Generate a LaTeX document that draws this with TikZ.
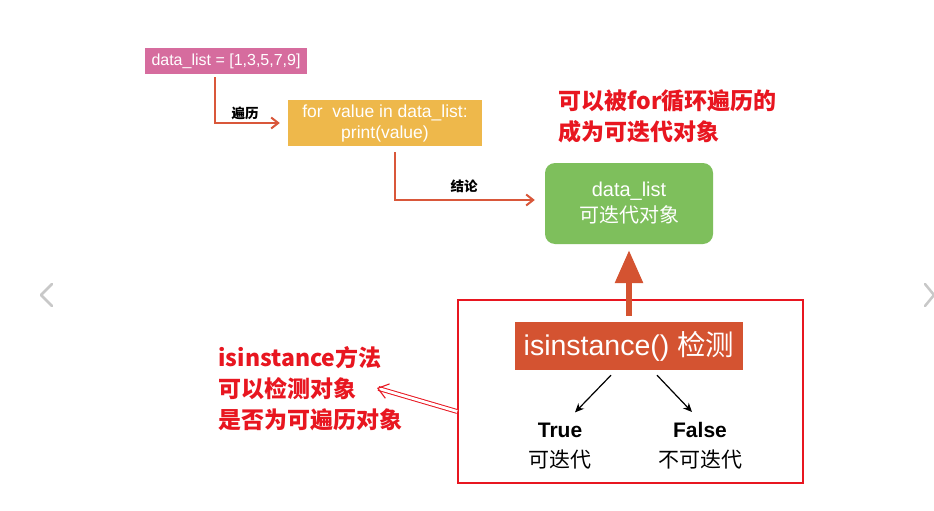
\documentclass[tikz,border=0pt]{standalone}
\usepackage{fontspec}
\setmainfont{Liberation Sans}
\newfontfamily\cjk{Noto Sans CJK SC}
\usetikzlibrary{arrows.meta, positioning, calc}
\definecolor{mypink}{RGB}{214,108,158}
\definecolor{myyellow}{RGB}{238,184,75}
\definecolor{mygreen}{RGB}{126,191,92}
\definecolor{myorange}{RGB}{212,83,49}
\definecolor{myarrow}{RGB}{217,87,58}
\definecolor{myred}{RGB}{232,22,32}
\definecolor{mygray}{RGB}{200,200,200}
\tikzset{
  codebox/.style={rectangle, inner sep=0pt, text=white, align=center},
  pinkbox/.style={codebox, fill=mypink, minimum width=162pt, minimum height=26pt,
    font=\fontsize{16}{19}\selectfont},
  yellowbox/.style={codebox, fill=myyellow, minimum width=194pt, minimum height=46pt,
    font=\fontsize{17.5}{21}\selectfont},
  greenbox/.style={codebox, fill=mygreen, minimum width=168pt, minimum height=81pt,
    rounded corners=10pt, font=\fontsize{20}{26}\selectfont},
  checkbox/.style={codebox, fill=myorange, minimum width=228pt, minimum height=48pt,
    font=\fontsize{28.5}{30}\selectfont},
  framebox/.style={rectangle, draw=myred, line width=1.6pt, minimum width=345pt,
    minimum height=183pt, inner sep=0pt},
  steplabel/.style={font=\cjk\bfseries\fontsize{13.5}{15}\selectfont},
  resultlbl/.style={align=center, font=\fontsize{21}{30}\selectfont},
  notetext/.style={text=myred, align=left, font=\cjk\bfseries\fontsize{23}{31}\selectfont},
  flowarrow/.style={-{Straight Barb[length=7pt,width=11pt]}, line width=2pt, color=myarrow},
  bigarrow/.style={-{Triangle[length=33pt,width=27pt]}, line width=6pt, color=myorange},
  branch/.style={-{Stealth[length=9pt,width=8pt]}, line width=1.2pt, color=black},
  hollowarrow/.style={-{Straight Barb[length=10pt,width=15pt,line width=1.1pt]}, double=white,
    double distance=2.8pt, line width=1pt, draw=myred},
  chevron/.style={line width=2.5pt, color=mygray, line cap=round, line join=round}
}
\begin{document}
\begin{tikzpicture}[x=1pt, y=-1pt]
  \fill[white] (0,0) rectangle (934,511);
  \useasboundingbox (0,0) rectangle (934,511);

  % Slider chevrons
  \draw[chevron] (52,284) -- (41,295) -- (52,306);
  \draw[chevron] (925,284) -- (934,295) -- (925,306);

  % Boxes
  \node[pinkbox] (datalist) at (226,61) {data\_list = [1,3,5,7,9]};
  \node[yellowbox] (forloop) at (385,123) {for~~value in data\_list:\\print(value)};
  \node[greenbox] (iterable) at (629,203.5) {data\_list\\{\cjk 可迭代对象}};
  \node[framebox] (frame) at (630.5,391.5) {};
  \node[checkbox] (check) at (629,346) {isinstance() {\cjk 检测}};

  % Results
  \node[resultlbl] (truelbl) at (560,446) {\textbf{True}\\{\cjk 可迭代}};
  \node[resultlbl] (falselbl) at (700,446) {\textbf{False}\\{\cjk 不可迭代}};

  % Flow arrows
  \draw[flowarrow, shorten <=3pt, shorten >=8pt] ([xshift=-11pt]datalist.south) |- (forloop.west);
  \draw[flowarrow, shorten <=6pt, shorten >=10pt] ([xshift=10pt]forloop.south) |- ([yshift=3.5pt]iterable.west);
  \node[steplabel] (travlbl) at (245,113) {遍历};
  \node[steplabel] (conclbl) at (464,186) {结论};
  \draw[bigarrow] ([yshift=6pt]check.north) -- ([yshift=-6pt]iterable.south);
  \draw[branch] ([xshift=-18pt,yshift=-5pt]check.south) -- ([xshift=15pt,yshift=7pt]truelbl.north);
  \draw[branch] ([xshift=28pt,yshift=-5pt]check.south) -- ([xshift=-8pt,yshift=7pt]falselbl.north);

  % Notes
  \node[notetext, anchor=west] (topnote) at (555,116) {可以被for循环遍历的\\成为可迭代对象};
  \node[notetext, anchor=west] (sidenote) at (215,389) {isinstance方法\\可以检测对象\\是否为可遍历对象};
  \coordinate (hint) at (377,388);
  \draw[hollowarrow] ([yshift=-20pt]frame.west) -- (hint);
\end{tikzpicture}
\end{document}
